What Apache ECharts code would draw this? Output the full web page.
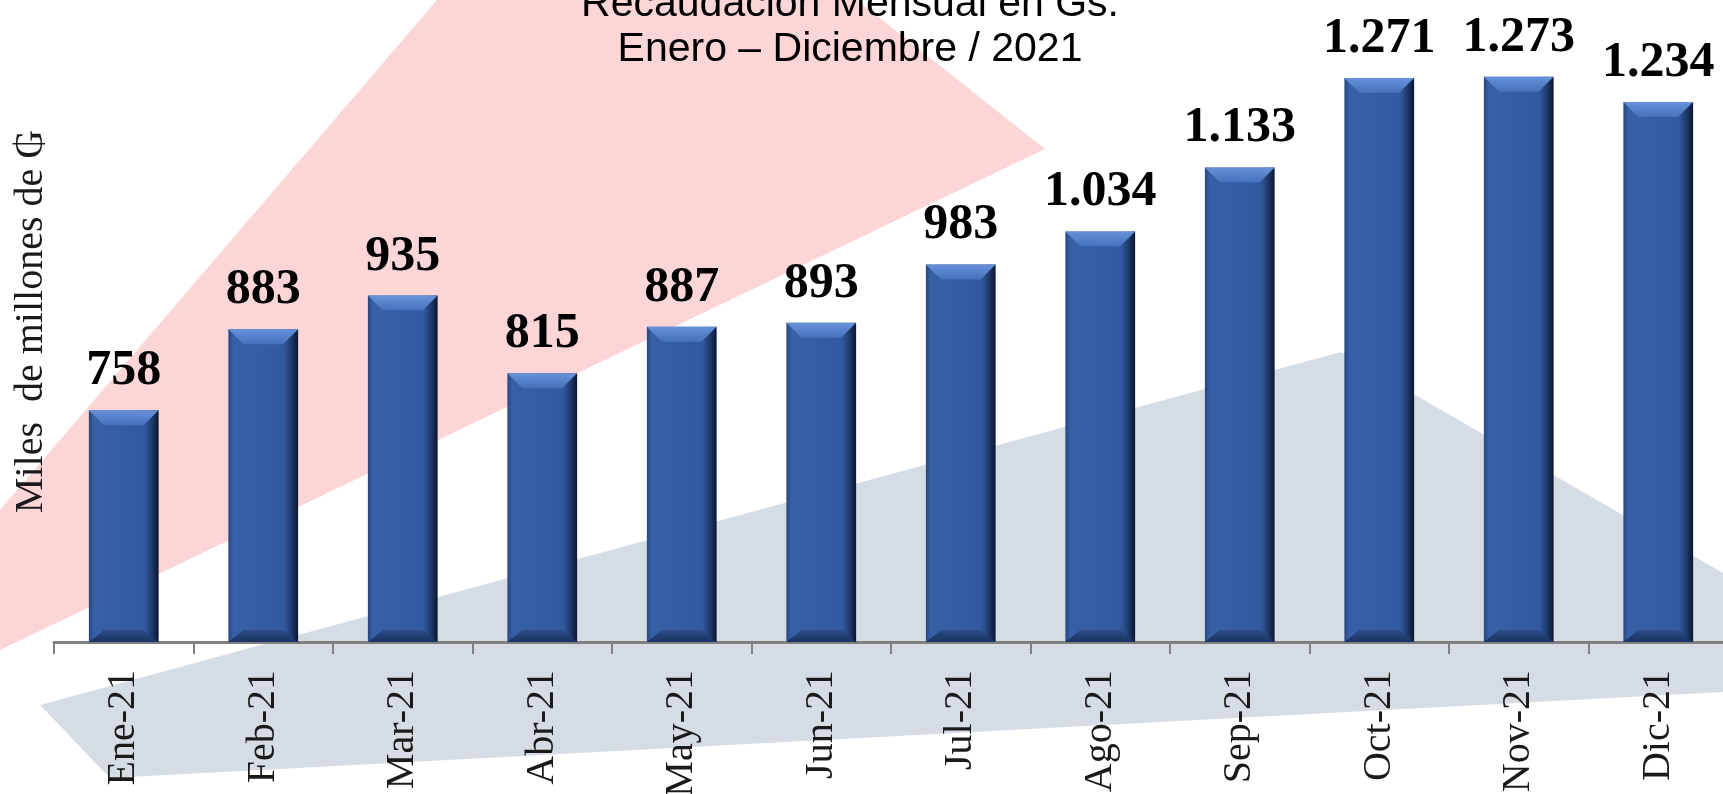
<!DOCTYPE html>
<html>
<head>
<meta charset="utf-8">
<script src="https://cdn.jsdelivr.net/npm/echarts@6/dist/echarts.min.js"></script>
<style>
  html, body { margin: 0; padding: 0; background: #fff; }
  #barChart { width: 1723px; height: 794px; }
</style>
</head>
<body>
<div id="barChart"></div>
<script>
var months = ['Ene-21', 'Feb-21', 'Mar-21', 'Abr-21', 'May-21', 'Jun-21',
              'Jul-21', 'Ago-21', 'Sep-21', 'Oct-21', 'Nov-21', 'Dic-21'];
var recaudacion = [758, 883, 935, 815, 887, 893, 983, 1034, 1133, 1271, 1273, 1234];
var yMin = 400;
var yMax = 1390;

// 1034 -> "1.034"
function miles(v) {
    return String(v).replace(/\B(?=(\d{3})+(?!\d))/g, '.');
}

var bevelData = [];
for (var i = 0; i < months.length; i++) {
    bevelData.push([i, recaudacion[i]]);
}

function renderBevel(params, api) {
    var top = api.coord([api.value(0), api.value(1)]);
    var base = api.coord([api.value(0), yMin]);
    var w = api.size([1, 0])[0] * 0.5;
    var l = top[0] - w / 2, r = top[0] + w / 2;
    var t = top[1], b = base[1];
    var bv = 15, th = 15, bh = 12;
    return {
        type: 'group',
        children: [{
            type: 'polygon',
            shape: { points: [[l, t], [r, t], [r - bv, t + th], [l + bv, t + th]] },
            style: {
                fill: new echarts.graphic.LinearGradient(0, 0, 0, 1, [
                    { offset: 0, color: '#6792da' },
                    { offset: 1, color: '#4571bc' }
                ])
            }
        }, {
            type: 'polygon',
            shape: { points: [[l, b], [r, b], [r - bv, b - bh], [l + bv, b - bh]] },
            style: {
                fill: new echarts.graphic.LinearGradient(0, 0, 0, 1, [
                    { offset: 0, color: '#2b4d89' },
                    { offset: 1, color: '#1a3260' }
                ])
            }
        }]
    };
}

var barChart = echarts.init(document.getElementById('barChart'));

var option = {
    backgroundColor: '#ffffff',
    animation: false,
    title: {
        text: 'Recaudación Mensual en Gs.\nEnero – Diciembre / 2021',
        left: 850,
        top: -18,
        padding: 0,
        textAlign: 'center',
        textStyle: {
            fontFamily: '"Liberation Sans", Arial, sans-serif',
            fontSize: 41,
            fontWeight: 'normal',
            lineHeight: 45,
            color: '#000'
        }
    },
    graphic: [{
        type: 'polygon',
        z: -10,
        silent: true,
        shape: { points: [[437, 0], [857, 0], [1045, 149], [0, 650], [0, 510]] },
        style: { fill: '#fcd6d6' }
    }, {
        type: 'polygon',
        z: -10,
        silent: true,
        shape: { points: [[1341, 352], [1723, 573], [1723, 692], [110, 778], [40, 705]] },
        style: { fill: '#d6dce4' }
    }],
    grid: {
        left: 54,
        right: -5,
        top: 1,
        bottom: 152,
        containLabel: false,
        outerBoundsMode: 'none'
    },
    xAxis: {
        type: 'category',
        data: months,
        axisLine: {
            lineStyle: { color: '#808080', width: 3 }
        },
        axisTick: {
            show: true,
            alignWithLabel: false,
            length: 12,
            lineStyle: { color: '#808080', width: 2 }
        },
        axisLabel: {
            rotate: 90,
            margin: 28,
            fontFamily: '"Liberation Serif", "Times New Roman", serif',
            fontSize: 40,
            color: '#1a1a1a'
        }
    },
    yAxis: {
        type: 'value',
        min: yMin,
        max: yMax,
        name: 'Miles  de millones de ₲',
        nameLocation: 'middle',
        nameGap: 3,
        nameTextStyle: {
            fontFamily: '"Liberation Serif", "Times New Roman", serif',
            fontSize: 40,
            color: '#1a1a1a'
        },
        axisLine: { show: false },
        axisTick: { show: false },
        axisLabel: { show: false },
        splitLine: { show: false }
    },
    series: [{
        type: 'bar',
        barWidth: '50%',
        data: recaudacion,
        itemStyle: {
            color: new echarts.graphic.LinearGradient(0, 0, 1, 0, [
                { offset: 0, color: '#27477f' },
                { offset: 0.07, color: '#3760a6' },
                { offset: 0.8, color: '#3159a0' },
                { offset: 0.91, color: '#1e3868' },
                { offset: 1, color: '#0b162f' }
            ])
        },
        label: {
            show: true,
            position: 'top',
            distance: 14,
            fontFamily: '"Liberation Serif", "Times New Roman", serif',
            fontWeight: 'bold',
            fontSize: 50,
            color: '#000',
            formatter: function (p) { return miles(p.value); }
        }
    }, {
        type: 'custom',
        silent: true,
        z: 3,
        renderItem: renderBevel,
        encode: { x: 0, y: 1 },
        data: bevelData
    }]
};

barChart.setOption(option);
</script>
</body>
</html>
